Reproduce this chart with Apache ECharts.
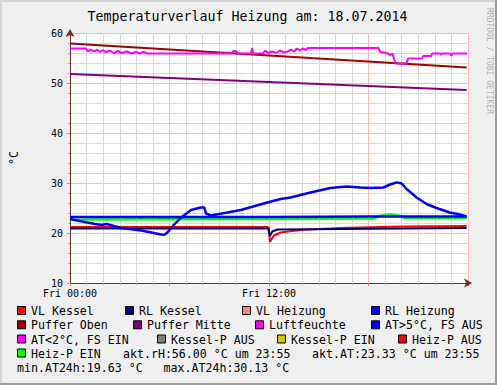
<!DOCTYPE html>
<html><head><meta charset="utf-8">
<script src="https://cdn.jsdelivr.net/npm/echarts@6/dist/echarts.min.js"></script>
<style>html,body{margin:0;padding:0;background:#f0f0f0}#c{width:497px;height:385px}</style>
</head><body><div id="c"></div>
<script>
// ---- data (hours since Fri 00:00, °C / %) ----
const titleText = 'Temperaturverlauf Heizung am: 18.07.2014';
const xTickLabels = {0: 'Fri 00:00', 12: 'Fri 12:00'};

const vlKesselT = [0, 11.9, 12.0, 12.05, 12.3, 12.7, 13.9, 16.3, 19.9, 23.92];
const vlKesselV = [21.2, 21.2, 21.0, 18.2, 19.5, 20.1, 20.6, 21.0, 21.3, 21.4];

const rlKesselT = [0, 11.95, 12.05, 12.2, 12.5, 23.92];
const rlKesselV = [20.9, 20.9, 19.4, 20.3, 20.7, 21.0];

const rlHeizungT = [0, 12, 18, 23.92];
const rlHeizungV = [23.2, 23.2, 23.3, 23.3];

const pufferObenT = [0, 12, 23.92];
const pufferObenV = [57.9, 55.5, 53.1];

const pufferMitteT = [0, 12, 23.92];
const pufferMitteV = [51.8, 50.2, 48.6];

const luftT = [0, 0.96, 1.08, 1.26, 1.44, 1.62, 1.8, 1.98, 2.16, 2.4, 2.64, 2.88, 3.12, 3.42, 3.72, 3.96, 4.2, 4.44, 4.68,
  9.72, 9.84, 10.0, 10.14, 10.92, 10.98, 11.04, 11.64, 11.76, 11.94, 12.18, 12.42, 12.66, 12.9, 13.14, 13.32, 13.5, 13.68,
  13.86, 14.04, 14.22, 14.34, 18.6, 18.72, 19.08, 19.32, 19.44, 19.62, 19.92, 20.28, 20.4, 21.24, 21.3, 21.78, 21.84,
  22.32, 22.38, 22.44, 22.92, 22.98, 23.1, 23.94];
const luftV = [56.9, 56.9, 56.3, 56.7, 56.3, 56.7, 56.2, 56.6, 56.1, 56.5, 56.0, 56.4, 56.0, 56.3, 55.9, 56.2, 55.9, 56.2, 55.9,
  55.9, 56.4, 56.4, 55.9, 55.9, 57.0, 55.9, 55.9, 56.5, 56.0, 56.3, 56.0, 56.5, 56.1, 56.3, 56.7, 56.3, 56.9,
  56.5, 56.9, 56.6, 57.0, 57.0, 56.2, 56.0, 55.6, 55.9, 54.0, 53.8, 54.0, 54.9, 54.9, 55.4, 55.4, 55.9,
  55.9, 55.6, 55.9, 55.9, 55.5, 55.9, 55.9];

const atT = [0, 0.42, 1.5, 1.92, 2.2, 3.1, 4.3, 5.5, 5.7, 5.9, 6.2, 6.7, 7.3, 7.9, 8.1, 8.2, 8.5, 10.3, 11.9, 12.7, 13.3,
  14.5, 15.7, 16.7, 17.5, 18.1, 18.9, 19.3, 19.7, 20.0, 20.3, 20.9, 21.5, 22.1, 22.9, 23.5, 23.92];
const atV = [22.8, 22.5, 21.8, 21.6, 21.8, 21.0, 20.5, 19.7, 19.63, 20.2, 21.4, 23.1, 24.6, 25.1, 25.1, 23.9, 23.5, 24.6, 26.1, 26.8, 27.1,
  28.1, 29.0, 29.3, 29.1, 29.0, 29.1, 29.7, 30.13, 29.9, 28.8, 27.1, 25.8, 25.0, 24.1, 23.7, 23.33];

const heizPEinT = [0, 12, 18.3, 18.8, 19.3, 19.8, 20.2, 23.92];
const heizPEinV = [22.7, 22.8, 22.9, 23.5, 23.7, 23.5, 23.0, 23.0];

const legendLabels = ['VL Kessel', 'RL Kessel', 'VL Heizung', 'RL Heizung',
  'Puffer Oben', 'Puffer Mitte', 'Luftfeuchte', 'AT>5°C, FS AUS',
  'AT<2°C, FS EIN', 'Kessel-P AUS', 'Kessel-P EIN', 'Heiz-P AUS', 'Heiz-P EIN'];
const legendColors = ['#ff0000', '#000080', '#ff8080', '#0000ff',
  '#a00000', '#800080', '#ff00ff', '#0000ff',
  '#ff00ff', '#808080', '#cccc00', '#ff0000', '#00ff00'];
const infoTexts = ['akt.rH:56.00 °C um 23:55', 'akt.AT:23.33 °C um 23:55',
  'min.AT24h:19.63 °C   max.AT24h:30.13 °C'];

// ---- layout ----
const MONO = '"DejaVu Sans Mono", "Liberation Mono", monospace';
const legendPos = [[17,0],[125,0],[242,0],[371,0],[17,1],[133,1],[255,1],[371,1],[17,2],[157,2],[277,2],[398,2],[17,3]];
const rowY = [311, 325.3, 339.5, 353.5, 367.5];
const infoPos = [[123,3],[312,3],[17,4]];

function zip(t, v) { return t.map((x, i) => [x, v[i]]); }
function line(name, t, v, color, w) {
  return { name, type: 'line', data: zip(t, v), showSymbol: false, symbol: 'none',
    lineStyle: { color, width: w || 2 }, itemStyle: { color }, animation: false, silent: true };
}

const graphics = [
  { type: 'rect', shape: { x: 0, y: 0, width: 497, height: 385 }, style: { fill: '#f0f0f0' }, z: -10 },
  { type: 'rect', shape: { x: 0, y: 0, width: 497, height: 2 }, style: { fill: '#d4d4d4' }, z: -9 },
  { type: 'rect', shape: { x: 0, y: 0, width: 2, height: 385 }, style: { fill: '#d4d4d4' }, z: -9 },
  { type: 'rect', shape: { x: 495, y: 0, width: 2, height: 385 }, style: { fill: '#9e9e9e' }, z: -9 },
  { type: 'rect', shape: { x: 0, y: 383, width: 497, height: 2 }, style: { fill: '#9e9e9e' }, z: -9 },
  { type: 'text', x: 247.5, y: 16, style: { text: titleText, font: '13.3px ' + MONO, fill: '#000', textAlign: 'center', textVerticalAlign: 'middle' } },
  { type: 'text', x: 489, y: 8, rotation: -Math.PI / 2, style: { text: 'RRDTOOL / TOBI OETIKER', font: '8px ' + MONO, fill: '#b0b0b0', textAlign: 'left', textVerticalAlign: 'middle' } }
];
legendLabels.forEach((lab, i) => {
  const [x, r] = legendPos[i];
  const y = rowY[r];
  graphics.push({ type: 'rect', shape: { x: x + 0.5, y: y - 4.5, width: 8, height: 8 }, style: { fill: legendColors[i], stroke: '#000', lineWidth: 1 } });
  graphics.push({ type: 'text', x: x + 14, y: y, style: { text: lab, font: '11.6px ' + MONO, fill: '#000', textAlign: 'left', textVerticalAlign: 'middle' } });
});
infoTexts.forEach((t, i) => {
  const [x, r] = infoPos[i];
  graphics.push({ type: 'text', x: x, y: rowY[r], style: { text: t, font: '11.6px ' + MONO, fill: '#000', textAlign: 'left', textVerticalAlign: 'middle' } });
});

const chart = echarts.init(document.getElementById('c'), null, { renderer: 'svg', width: 497, height: 385 });
chart.setOption({
  animation: false,
  backgroundColor: '#f0f0f0',
  graphic: graphics,
  grid: { left: 68, right: 29, top: 33, bottom: 102, show: true, backgroundColor: '#ffffff', borderWidth: 0 },
  xAxis: {
    type: 'value', min: 0, max: 24, interval: 6,
    axisLine: { lineStyle: { color: '#7a2a2a', width: 1 }, symbol: ['none', 'arrow'], symbolSize: [7, 8], symbolOffset: [0, 4] },
    axisTick: { show: true, length: 3, lineStyle: { color: '#e08080' } },
    minorTick: { show: true, splitNumber: 6, length: 2, lineStyle: { color: '#b0b0b0' } },
    splitLine: { show: true, lineStyle: { color: '#f4bcbc', width: 1 } },
    minorSplitLine: { show: true, lineStyle: { color: '#d9d9d9', width: 1 } },
    axisLabel: { formatter: v => xTickLabels[v] || '', margin: 5, color: '#000', fontFamily: MONO, fontSize: 10, showMaxLabel: true, showMinLabel: true }
  },
  yAxis: {
    type: 'value', min: 10, max: 60, interval: 10,
    name: '°C', nameLocation: 'middle', nameRotate: 90, nameGap: 50,
    nameTextStyle: { fontFamily: MONO, fontSize: 11.6, color: '#000' },
    axisLine: { show: true, lineStyle: { color: '#7a2a2a', width: 1 }, symbol: ['none', 'arrow'], symbolSize: [7, 8], symbolOffset: [0, 4] },
    axisTick: { show: true, length: 3, lineStyle: { color: '#e08080' } },
    minorTick: { show: true, splitNumber: 5, length: 2, lineStyle: { color: '#b0b0b0' } },
    splitLine: { show: true, lineStyle: { color: '#f4bcbc', width: 1 } },
    minorSplitLine: { show: true, lineStyle: { color: '#d9d9d9', width: 1 } },
    axisLabel: { margin: 7, color: '#000', fontFamily: MONO, fontSize: 10 }
  },
  series: [
    line('VL Kessel', vlKesselT, vlKesselV, '#ff0000'),
    line('RL Kessel', rlKesselT, rlKesselV, '#000080'),
    line('Heiz-P EIN', heizPEinT, heizPEinV, '#00ff00', 2.5),
    line('RL Heizung', rlHeizungT, rlHeizungV, '#0000ff', 2.5),
    line('Puffer Oben', pufferObenT, pufferObenV, '#a00000'),
    line('Puffer Mitte', pufferMitteT, pufferMitteV, '#800080'),
    line('Luftfeuchte', luftT, luftV, '#ff00ff'),
    line('AT', atT, atV, '#0000ff', 2.5)
  ]
});
</script></body></html>
